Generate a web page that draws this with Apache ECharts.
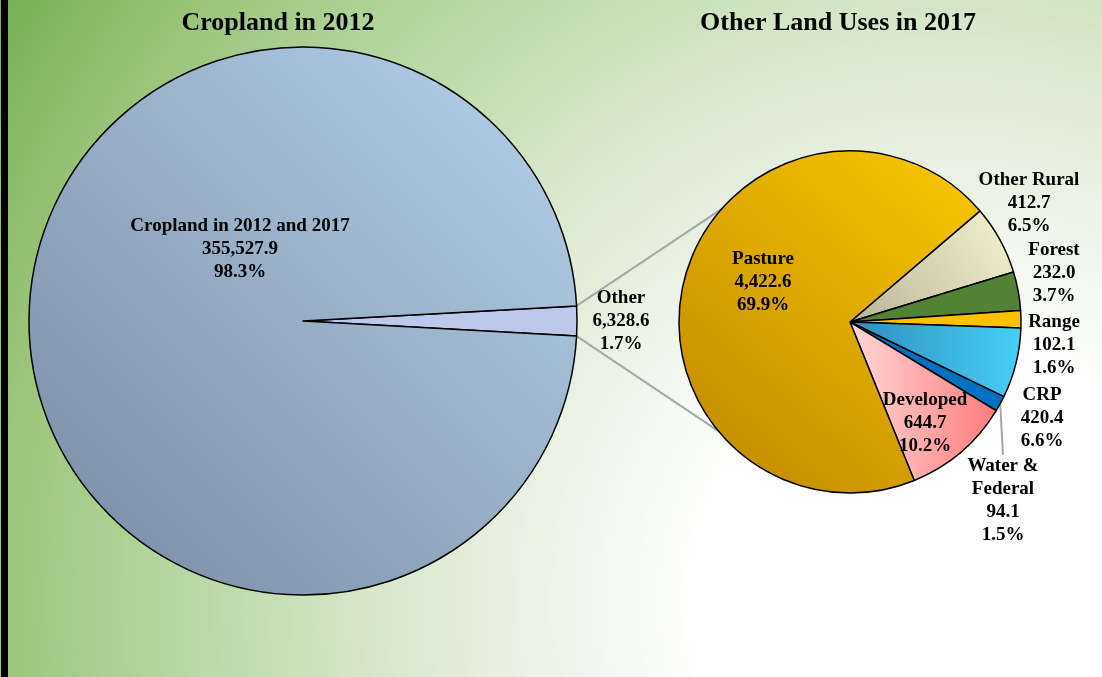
<!DOCTYPE html>
<html>
<head>
<meta charset="utf-8">
<script src="https://cdn.jsdelivr.net/npm/echarts@6/dist/echarts.min.js"></script>
<style>
html,body{margin:0;padding:0;background:#fff;}
#chart{width:1102px;height:677px;}
</style>
</head>
<body>
<div id="chart"></div>
<script>
// ---- data ----
const titles = ['Cropland in 2012', 'Other Land Uses in 2017'];
const cropCategories = ['Other', 'Cropland in 2012 and 2017'];
const cropValues = [6328.6, 355527.9];
const otherCategories = ['Other Rural', 'Forest', 'Range', 'CRP', 'Water & Federal', 'Developed', 'Pasture'];
const otherValues = [412.7, 232.0, 102.1, 420.4, 94.1, 644.7, 4422.6];

// ---- styles / layout ----
const FONT = 'Liberation Serif, Times New Roman, serif';
const leftCenter = [303, 321], leftR = 274;
const rightCenter = [850, 322], rightR = 171;
function lg(x, y, x2, y2, c0, c1) {
  return new echarts.graphic.LinearGradient(x, y, x2, y2, [{offset: 0, color: c0}, {offset: 1, color: c1}]);
}
const cropColors = ['#bcc9ea', lg(1, 0, 0, 1, '#b6d2eb', '#778aa1')];
const otherColors = [
  lg(0, 1, 1, 0, '#b9b497', '#f6f4cf'),
  '#538135',
  '#ffc000',
  lg(0, 0, 1, 0, '#2e8dbd', '#47d0f7'),
  '#0070c0',
  lg(0, 0, 1, 0, '#ffd8d8', '#ff7b7b'),
  lg(1, 0, 0, 1, '#fbc800', '#bd8700')
];
const cropLabelPos = [[621, 321], [240, 249]];
const otherLabelPos = [[1029, 203], [1054, 273], [1054, 345], [1042, 418], [1003, 501], [925, 423], [763, 282]];

function fmt(v) {
  const s = v.toFixed(1).split('.');
  return s[0].replace(/\B(?=(\d{3})+(?!\d))/g, ',') + '.' + s[1];
}
function labelFmt(p) {
  return p.name.replace(' & ', ' &\n') + '\n' + fmt(p.value) + '\n' + p.percent.toFixed(1) + '%';
}
const labelStyle = {
  show: true, position: 'outside', formatter: labelFmt,
  fontFamily: FONT, fontWeight: 'bold', fontSize: 19, lineHeight: 23, color: '#000', align: 'center'
};

// connector lines between pies, derived from the "Other" slice angle
const otherAngle = cropValues[0] / (cropValues[0] + cropValues[1]) * 360 / 2 * Math.PI / 180;
const p1 = [leftCenter[0] + leftR * Math.cos(otherAngle), leftCenter[1] - leftR * Math.sin(otherAngle)];
const p2 = [leftCenter[0] + leftR * Math.cos(otherAngle), leftCenter[1] + leftR * Math.sin(otherAngle)];
const a1 = 132 * Math.PI / 180, a2 = 225 * Math.PI / 180;
const q1 = [rightCenter[0] + (rightR - 4) * Math.cos(a1), rightCenter[1] - (rightR - 4) * Math.sin(a1)];
const q2 = [rightCenter[0] + (rightR - 4) * Math.cos(a2), rightCenter[1] - (rightR - 4) * Math.sin(a2)];

const chart = echarts.init(document.getElementById('chart'), null, {renderer: 'canvas'});
chart.setOption({
  animation: false,
  backgroundColor: {
    type: 'radial', x: 950, y: 600, r: 1124, global: true,
    colorStops: [
      {offset: 0, color: '#ffffff'},
      {offset: 0.22, color: '#ffffff'},
      {offset: 0.49, color: '#dbe9d0'},
      {offset: 0.72, color: '#b0d49a'},
      {offset: 0.85, color: '#9cc47a'},
      {offset: 1, color: '#74b052'}
    ]
  },
  title: [
    {text: titles[0], left: 273, top: 5, textAlign: 'center',
     textStyle: {fontFamily: FONT, fontWeight: 'bold', fontSize: 26, color: '#000'}},
    {text: titles[1], left: 833, top: 5, textAlign: 'center',
     textStyle: {fontFamily: FONT, fontWeight: 'bold', fontSize: 26, color: '#000'}}
  ],
  graphic: [
    {type: 'rect', shape: {x: 1, y: 0, width: 7, height: 677}, style: {fill: '#000'}, z: 10},
    {type: 'line', shape: {x1: p1[0], y1: p1[1], x2: q1[0], y2: q1[1]}, style: {stroke: '#a6a6a6', lineWidth: 2}, z: 0},
    {type: 'line', shape: {x1: p2[0], y1: p2[1], x2: q2[0], y2: q2[1]}, style: {stroke: '#a6a6a6', lineWidth: 2}, z: 0}
  ],
  series: [
    {
      type: 'pie', z: 3, center: leftCenter, radius: [0, leftR],
      startAngle: cropValues[0] / (cropValues[0] + cropValues[1]) * 180,
      clockwise: true, avoidLabelOverlap: false, percentPrecision: 1,
      itemStyle: {borderColor: '#000', borderWidth: 1.5},
      label: labelStyle,
      labelLine: {show: false},
      labelLayout: p => ({x: cropLabelPos[p.dataIndex][0], y: cropLabelPos[p.dataIndex][1], align: 'center', verticalAlign: 'middle'}),
      emphasis: {disabled: true},
      data: cropCategories.map((n, i) => ({name: n, value: cropValues[i], itemStyle: {color: cropColors[i]}}))
    },
    {
      type: 'pie', z: 3, center: rightCenter, radius: [0, rightR],
      startAngle: 40.5,
      clockwise: true, avoidLabelOverlap: false, percentPrecision: 1,
      itemStyle: {borderColor: '#000', borderWidth: 1.5},
      label: labelStyle,
      labelLine: {show: false},
      labelLayout: p => ({x: otherLabelPos[p.dataIndex][0], y: otherLabelPos[p.dataIndex][1], align: 'center', verticalAlign: 'middle'}),
      emphasis: {disabled: true},
      data: otherCategories.map((n, i) => {
        const d = {name: n, value: otherValues[i], itemStyle: {color: otherColors[i]}};
        if (n === 'Water & Federal') {
          d.labelLine = {show: true, length: 8, length2: 0, lineStyle: {color: '#a6a6a6', width: 2}};
        }
        return d;
      })
    }
  ]
});
</script>
</body>
</html>
